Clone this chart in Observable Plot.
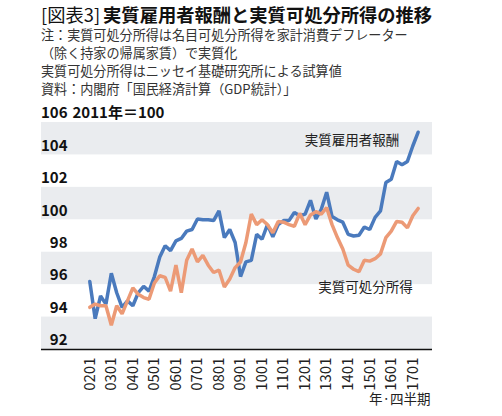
<!DOCTYPE html>
<html><head><meta charset="utf-8">
<script src="https://cdn.jsdelivr.net/npm/d3@7"></script>
<script src="https://cdn.jsdelivr.net/npm/@observablehq/plot@0.6"></script>
<style>
body{margin:0;background:#fff;font-family:"Noto Sans CJK JP",sans-serif;width:502px;height:416px;overflow:hidden;position:relative}
#title{position:absolute;left:41px;top:3px;height:23px;line-height:23px;font-size:18.3px;color:#111;white-space:nowrap}
#title .pre{font-weight:400;margin-right:3px}
#title .main{font-weight:700}
#notes{position:absolute;left:41px;top:26px;font-size:13.1px;line-height:18px;color:#333;white-space:nowrap}
#chart{position:absolute;left:0;top:98px}
</style></head>
<body>
<div id="title"><span class="pre">[図表3]</span><span class="main">実質雇用者報酬と実質可処分所得の推移</span></div>
<div id="notes">注：実質可処分所得は名目可処分所得を家計消費デフレーター<br>（除く持家の帰属家賃）で実質化<br>実質可処分所得はニッセイ基礎研究所による試算値<br>資料：内閣府「国民経済計算（GDP統計）」</div>
<div id="chart"></div>
<script>
// quarter categories 2002Q1 .. 2017Q2 (labels "YYQQ")
const quarters = [];
for (let y = 2; y <= 17; y++) for (let q = 1; q <= 4; q++) quarters.push(String(y).padStart(2, "0") + "0" + q);
quarters.length = 62;

const tickLabels = ["0201","0301","0401","0501","0601","0701","0801","0901","1001","1101","1201","1301","1401","1501","1601","1701"];
const yTicks = [92, 94, 96, 98, 100, 102, 104, 106];
const bands = [[92, 94], [96, 98], [100, 102], [104, 106]];
const unitLabel = "2011年＝100";
const xUnitLabel = "年·四半期";

// 実質雇用者報酬
const employeeComp = [96.2,93.9,95.3,94.8,96.7,95.5,94.6,95.0,94.7,95.5,95.9,95.6,96.5,97.7,98.4,98.1,98.7,98.85,99.3,99.4,100.05,100.0,100.0,99.95,100.55,98.9,99.4,98.6,96.5,97.4,97.5,99.1,98.8,99.7,98.95,99.7,99.95,99.95,100.45,100.25,100.35,101.2,100.05,100.65,101.7,100.2,100.0,99.85,99.1,99.0,99.05,99.55,99.4,100.15,100.55,102.3,102.5,103.6,103.4,103.6,104.55,105.4];
// 実質可処分所得
const disposableIncome = [94.6,94.8,94.7,94.7,93.5,94.7,94.2,95.0,95.8,95.4,95.2,95.1,96.1,96.55,96.45,95.6,97.2,95.5,97.5,98.2,97.4,97.8,97.2,96.75,96.9,95.85,96.35,97.05,97.4,98.6,100.35,99.7,100.0,99.7,99.2,99.9,99.85,99.7,99.6,100.4,99.7,100.3,100.5,100.35,100.75,99.7,98.9,98.2,97.2,96.95,96.8,97.5,97.45,97.6,97.9,98.9,99.3,99.9,99.85,99.5,100.25,100.7];

const seriesLabels = [
  {name: "実質雇用者報酬", q: 48.7, v: 104.88},
  {name: "実質可処分所得", q: 51.2, v: 95.84}
];

const rows = quarters.map((q, i) => ({i, q, comp: employeeComp[i], disp: disposableIncome[i]}));
const tickIdx = tickLabels.map(l => quarters.indexOf(l));

const chart = Plot.plot({
  width: 502, height: 318,
  marginTop: 24, marginBottom: 67, marginLeft: 41, marginRight: 70,
  x: {type: "linear", domain: [-8.97, 63.66]},
  y: {domain: [92, 106], axis: null},
  style: {fontFamily: "'Noto Sans CJK JP', sans-serif", fontSize: "15px", color: "#222", background: "white", overflow: "visible"},
  marks: [
    Plot.rect(bands, {y1: d => d[0], y2: d => d[1], fill: "#eaecef"}),
    Plot.ruleY([yTicks[0]], {stroke: "#111", strokeWidth: 1.3}),
    Plot.text(yTicks, {y: d => d, text: d => String(d), frameAnchor: "left", textAnchor: "end", dx: 26, dy: -9, fontWeight: "bold", fontSize: 15, fill: "#111"}),
    Plot.text([{t: unitLabel, v: yTicks[yTicks.length - 1]}], {y: "v", text: "t", frameAnchor: "left", textAnchor: "start", dx: 31, dy: -9, fontWeight: "bold", fontSize: 15, fill: "#111"}),
    Plot.line(rows, {x: "i", y: "comp", stroke: "#4a7abd", strokeWidth: 3.5, strokeLinejoin: "miter"}),
    Plot.line(rows, {x: "i", y: "disp", stroke: "#ec9a76", strokeWidth: 3.5, strokeLinejoin: "miter"}),
    Plot.text(seriesLabels, {x: "q", y: "v", text: "name", fontSize: 13.5, fill: "#222"}),
    Plot.axisX(tickIdx, {tickFormat: i => quarters[i], tickRotate: -90, tickSize: 0, tickPadding: 8, fontSize: 15, fill: "#222", label: null}),
    Plot.text([xUnitLabel], {frameAnchor: "bottom-right", text: d => d, textAnchor: "end", dy: 54, dx: -2, fontSize: 13.5, fill: "#222"})
  ]
});
document.getElementById("chart").appendChild(chart);
</script>
</body></html>
